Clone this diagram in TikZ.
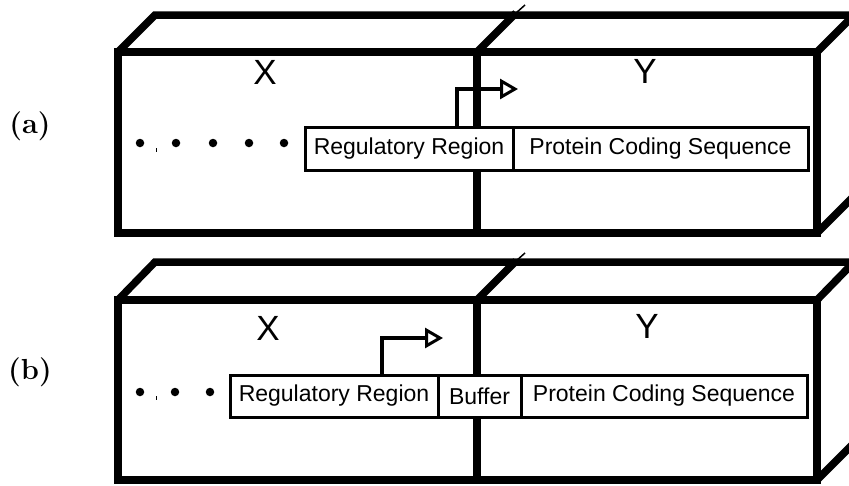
\documentclass[tikz,border=0pt]{standalone}
\usepackage{fontspec}
\newfontfamily\arialfont{Liberation Sans}
\usetikzlibrary{arrows.meta}
\begin{document}
\begin{tikzpicture}[x=1pt,y=-1pt,
  wall/.style={line width=7.5pt, line join=miter},
  spike/.style={line width=1.5pt},
  seg/.style={draw, fill=white, line width=3pt, inner sep=0pt, outer sep=0pt,
    minimum height=43pt, font=\arialfont\fontsize{23}{27}\selectfont},
  prom/.style={line width=3.5pt, -{Triangle[open,length=18pt,width=20pt,line width=3pt]}},
  dotmark/.style={fill, circle, inner sep=0pt, minimum size=8.5pt},
  tick/.style={line width=1pt},
  region/.style={font=\arialfont\fontsize{35}{40}\selectfont},
  tag/.style={font=\bfseries\fontsize{29}{32}\selectfont}]
\useasboundingbox (0,0) rectangle (849,485);
\begin{scope}
\clip (0,0) rectangle (849,485);
\fill[white] (0,0) rectangle (849,485);

% ---------- (a) ----------
\coordinate (aFL) at (118,52);
\coordinate (aFR) at (817,233);
\draw[wall] (aFL) -- (155,15) -- (870,15);
\draw[wall] (477,52) -- (516,13);
\draw[spike] (516,13) -- (525,5);
\draw[wall] (817,52) -- (855,14);
\draw[wall] (817,233) -- (855,195);
\draw[wall] (477,52) -- (477,236);
\draw[wall] (aFL) rectangle (aFR);

\node[seg, minimum width=208pt] (rega) at (409,148.5) {Regulatory Region};
\node[seg, minimum width=295pt, anchor=west] (pcsa) at (rega.east) {Protein Coding Sequence};
\coordinate (tipa) at (518,89);
\draw[prom] ([xshift=48pt]rega.north) |- (tipa);

\node[dotmark] (a1) at (140,143) {};
\node[dotmark] (a2) at (176,143) {};
\node[dotmark] (a3) at (213,143) {};
\node[dotmark] (a4) at (249,143) {};
\node[dotmark] (a5) at (284,143) {};
\draw[tick] (156,148) -- (156,152);

\node[region] (xa) at (265,72) {X};
\node[region] (ya) at (645,71) {Y};

% ---------- (b) ----------
\coordinate (bFL) at (118,300);
\coordinate (bFR) at (817,480);
\draw[wall] (bFL) -- (155,262) -- (870,262);
\draw[wall] (477,300) -- (516,261);
\draw[spike] (516,261) -- (525,253);
\draw[wall] (817,300) -- (855,261);
\draw[wall] (817,480) -- (855,442);
\draw[wall] (477,300) -- (477,480);
\draw[wall] (bFL) rectangle (bFR);

\node[seg, minimum width=208pt, minimum height=42pt] (regb) at (334,396) {Regulatory Region};
\node[seg, minimum width=83pt, minimum height=42pt, anchor=west] (bufb) at (regb.east) {Buffer};
\node[seg, minimum width=286pt, minimum height=42pt, anchor=west] (pcsb) at (bufb.east) {Protein Coding Sequence};
\coordinate (tipb) at (443,338);
\draw[prom] ([xshift=48pt]regb.north) |- (tipb);

\node[dotmark] (b1) at (140,392) {};
\node[dotmark] (b2) at (175,392) {};
\node[dotmark] (b3) at (210,392) {};
\draw[tick] (156,396) -- (156,400);

\node[region] (xb) at (268,328) {X};
\node[region] (yb) at (647,326) {Y};
\end{scope}

\node[tag] (taga) at (30,126) {(a)};
\node[tag] (tagb) at (30,372) {(b)};
\end{tikzpicture}
\end{document}
